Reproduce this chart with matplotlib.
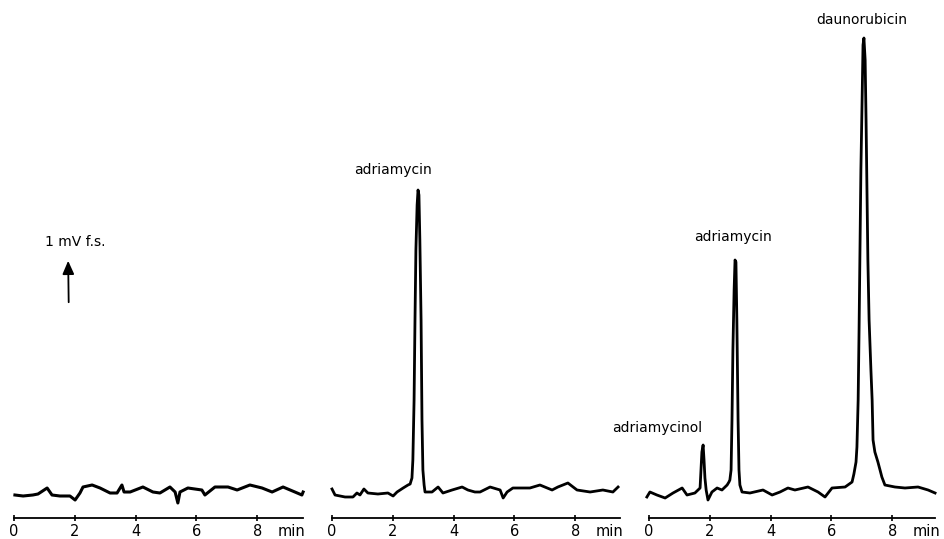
import matplotlib.pyplot as plt

# retention time (min) and detector signal (arbitrary units)
blank_t = [0.03, 0.30, 0.62, 0.79, 1.09, 1.25, 1.51, 1.84, 2.01, 2.17, 2.27, 2.57, 2.83,
           3.16, 3.39, 3.55, 3.62, 3.82, 4.24, 4.57, 4.80, 5.13, 5.30, 5.39, 5.46, 5.72,
           6.18, 6.28, 6.61, 7.04, 7.34, 7.76, 8.16, 8.49, 8.85, 9.24, 9.47, 9.51]
blank_s = [23, 22, 23, 24, 30, 23, 22, 22, 18, 25, 31, 33, 30,
           25, 25, 33, 26, 26, 31, 26, 25, 31, 26, 15, 26, 30,
           28, 23, 31, 31, 28, 33, 30, 26, 31, 26, 23, 26]

std_t = [0.00, 0.10, 0.43, 0.69, 0.82, 0.92, 1.05, 1.18, 1.51, 1.84, 2.01, 2.14, 2.34,
         2.50, 2.57, 2.63, 2.66, 2.70, 2.73, 2.76, 2.80, 2.83, 2.86, 2.89, 2.93, 2.96,
         2.99, 3.03, 3.06, 3.29, 3.49, 3.65, 3.95, 4.28, 4.47, 4.70, 4.87, 5.20, 5.53,
         5.63, 5.76, 5.95, 6.51, 6.84, 7.24, 7.43, 7.76, 8.06, 8.49, 8.91, 9.24, 9.41]
std_s = [29, 23, 21, 21, 25, 23, 29, 25, 24, 25, 22, 26, 30,
         33, 34, 40, 58, 118, 198, 268, 313, 328, 323, 278, 198, 98,
         48, 33, 26, 26, 31, 25, 28, 31, 28, 26, 26, 31, 28,
         20, 26, 30, 30, 33, 28, 31, 35, 28, 26, 28, 26, 31]

smp_t = [-0.07, 0.03, 0.26, 0.53, 0.79, 1.09, 1.25, 1.51, 1.68, 1.71, 1.74, 1.78, 1.81,
         1.84, 1.88, 1.94, 2.07, 2.24, 2.40, 2.57, 2.63, 2.66, 2.70, 2.73, 2.76, 2.80,
         2.83, 2.86, 2.89, 2.93, 2.96, 2.99, 3.06, 3.32, 3.75, 4.05, 4.31, 4.57, 4.80,
         5.23, 5.56, 5.79, 6.02, 6.45, 6.68, 6.74, 6.81, 6.84, 6.88, 6.91, 6.94, 6.97,
         7.01, 7.04, 7.07, 7.11, 7.14, 7.17, 7.20, 7.24, 7.30, 7.34, 7.37, 7.43, 7.53,
         7.60, 7.66, 7.76, 8.09, 8.42, 8.85, 9.18, 9.41]
smp_s = [21, 26, 23, 20, 25, 30, 23, 25, 30, 48, 66, 73, 58,
         40, 28, 18, 26, 30, 28, 33, 36, 38, 48, 98, 168, 228,
         258, 256, 198, 98, 48, 33, 26, 25, 28, 23, 26, 30, 28,
         31, 26, 21, 30, 31, 36, 44, 56, 71, 118, 188, 268, 348,
         418, 473, 480, 458, 398, 328, 258, 198, 148, 118, 78, 66, 56,
         48, 41, 33, 31, 30, 31, 28, 25]

ticks = [0, 2, 4, 6, 8]
tick_labels = ['0', '2', '4', '6', '8']
axis_end = [9.5, 9.47, 9.4]

W, H = 944, 539
fig = plt.figure(figsize=(W / 100, H / 100), dpi=100)

px_per_min = 30.4
x0_px = [14, 332, 649]
axes = []
for i, x0 in enumerate(x0_px):
    left = (x0 - 0.3 * px_per_min) / W
    ax = fig.add_axes([left, 21 / H, 10 * px_per_min / W, 508 / H])
    ax.set_xlim(-0.3, 9.7)
    ax.set_ylim(0, 508)
    for s in ['top', 'right', 'left']:
        ax.spines[s].set_visible(False)
    ax.spines['bottom'].set_bounds(0, axis_end[i])
    ax.spines['bottom'].set_linewidth(1.3)
    ax.set_yticks([])
    ax.set_xticks(ticks + [9.12], tick_labels + ['min'])
    ax.tick_params(axis='x', direction='inout', length=5, width=1.2, pad=2, labelsize=10.5)
    ax.xaxis.get_major_ticks()[-1].tick1line.set_visible(False)
    axes.append(ax)

axes[0].plot(blank_t, blank_s, color='black', lw=2.2)
axes[1].plot(std_t, std_s, color='black', lw=2.0)
axes[2].plot(smp_t, smp_s, color='black', lw=2.0)

lab = dict(fontsize=10, ha='center', va='center')
axes[0].text(2.0, 276, '1 mV f.s.', **lab)
axes[0].annotate('', xy=(1.78, 260), xytext=(1.8, 213),
                 arrowprops=dict(arrowstyle='-|>,head_width=0.35,head_length=0.8',
                                 color='black', lw=1.3))
axes[1].text(2.0, 348, 'adriamycin', **lab)
axes[2].text(2.76, 281, 'adriamycin', **lab)
axes[2].text(0.26, 90, 'adriamycinol', **lab)
axes[2].text(7.0, 498, 'daunorubicin', **lab)

fig.savefig('out.png', dpi=100)
